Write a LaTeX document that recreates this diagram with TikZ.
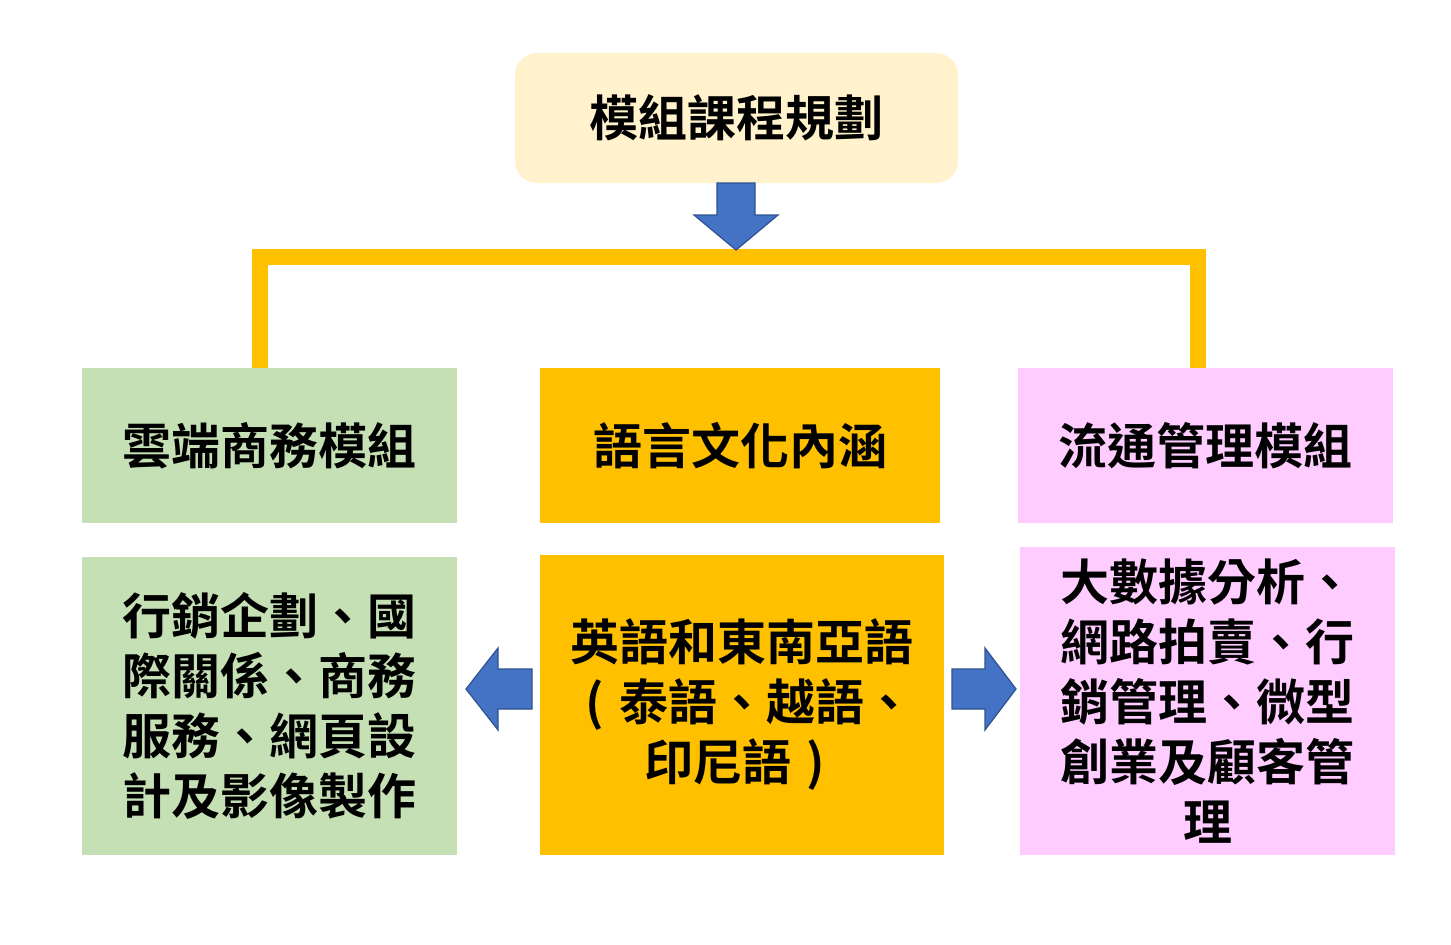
\documentclass[tikz,border=0pt]{standalone}
\usepackage{fontspec}
\newfontfamily\cjk{Noto Sans CJK TC}[BoldFont = * Bold]
\definecolor{paleyellow}{HTML}{FFF2CC}
\definecolor{gold}{HTML}{FFC000}
\definecolor{sage}{HTML}{C5E0B4}
\definecolor{pinkish}{HTML}{FFCCFF}
\definecolor{arrowblue}{HTML}{4472C4}
\definecolor{arrowedge}{HTML}{2F528F}
\newcommand{\hwp}[1]{\makebox[1em][c]{#1}}
\tikzset{
  box/.style={rectangle, inner sep=0pt, align=center, text=black,
    font=\cjk\bfseries\fontsize{49}{60}\selectfont},
  bus/.style={draw=gold, line width=16pt, line join=miter},
  blockarrow/.style={fill=arrowblue, draw=arrowedge, line width=1.2pt, line join=miter}
}
\begin{document}
\begin{tikzpicture}[x=1pt,y=-1pt]
\useasboundingbox[fill=white] (0,0) rectangle (1451,945);

% boxes
\node[box, fill=paleyellow, rounded corners=22pt, minimum width=443pt, minimum height=130pt] (top) at (736.5,118) {模組課程規劃};

\node[box, fill=sage, minimum width=375pt, minimum height=155pt] (l1) at (269.5,445.5) {雲端商務模組};
\node[box, fill=gold, minimum width=400pt, minimum height=155pt] (m1) at (740,445.5) {語言文化內涵};
\node[box, fill=pinkish, minimum width=375pt, minimum height=155pt] (r1) at (1205.5,445.5) {流通管理模組};

\node[box, fill=sage, minimum width=375pt, minimum height=298pt] (l2) at (269.5,706) {行銷企劃、國\\際關係、商務\\服務、網頁設\\計及影像製作};
\node[box, fill=gold, minimum width=404pt, minimum height=300pt] (m2) at (742,705) {英語和東南亞語\\\hwp{(}泰語、越語、\\印尼語\hwp{)}};
\node[box, fill=pinkish, minimum width=375pt, minimum height=308pt] (r2) at (1207.5,701) {大數據分析、\\網路拍賣、行\\銷管理、微型\\創業及顧客管\\理};

% yellow bus connector
\coordinate (busy) at (736,257);
\draw[bus] ([xshift=-9.5pt]l1.north) |- (busy) -| ([xshift=-7.5pt]r1.north);

% down arrow (from top box onto the bus)
\coordinate (dt) at (736,250);
\draw[blockarrow] (717,183) -- (717,215) -- (694,215) -- (dt) -- (778,215) -- (755,215) -- (755,183) -- cycle;

% left arrow (from m2 towards l2)
\coordinate (lt) at (466,689);
\draw[blockarrow] (532,669) -- (498,669) -- (498,648) -- (lt) -- (498,730) -- (498,709) -- (532,709) -- cycle;

% right arrow (from m2 towards r2)
\coordinate (rt) at (1016,689);
\draw[blockarrow] (952,669) -- (985,669) -- (985,648) -- (rt) -- (985,730) -- (985,709) -- (952,709) -- cycle;
\end{tikzpicture}
\end{document}
